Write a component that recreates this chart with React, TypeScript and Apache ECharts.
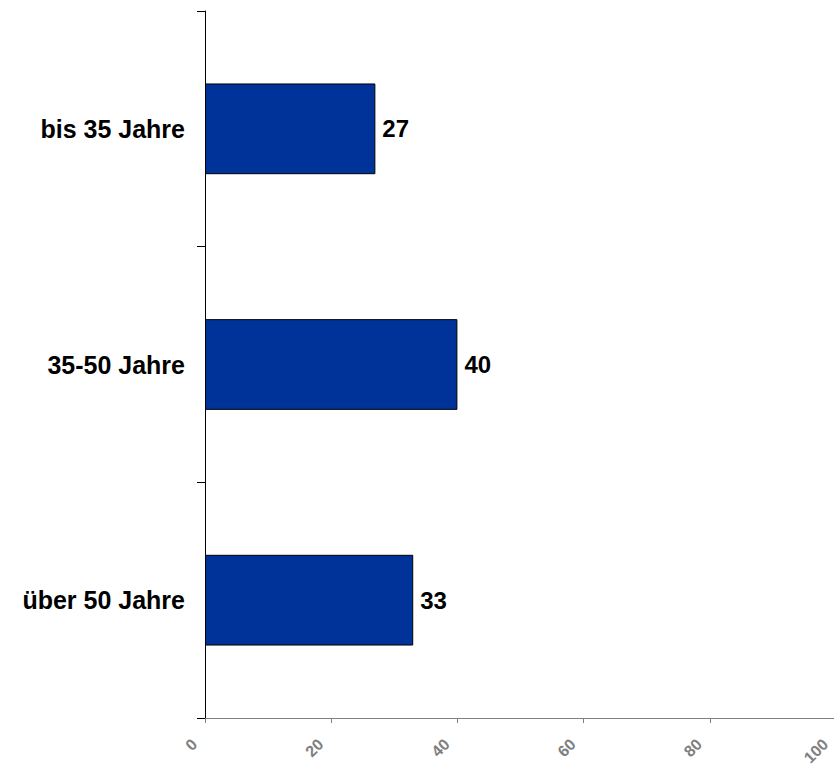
import React, { useEffect, useRef } from "react";
import * as echarts from "echarts";

const categories = ["bis 35 Jahre", "35-50 Jahre", "über 50 Jahre"];
const values = [27, 40, 33];
const xTicks = [0, 20, 40, 60, 80, 100];

export default function App() {
  const ref = useRef<HTMLDivElement>(null);
  useEffect(() => {
    if (!ref.current) return;
    const chart = echarts.init(ref.current, undefined, { renderer: "svg" });
    chart.setOption({
      animation: false,
      grid: { left: 205, top: 11, right: 14, bottom: 51, containLabel: false },
      xAxis: {
        type: "value",
        min: xTicks[0],
        max: xTicks[xTicks.length - 1],
        interval: 20,
        splitLine: { show: false },
        axisLine: { show: true, lineStyle: { color: "#808080", width: 1 } },
        axisTick: { show: true, length: 5, lineStyle: { color: "#808080" } },
        axisLabel: {
          rotate: 45,
          color: "#808080",
          fontFamily: "Liberation Sans, Arial, sans-serif",
          fontWeight: "bold",
          fontSize: 16,
          margin: 13,
          padding: [0, 15, 0, 0],
        },
      },
      yAxis: {
        type: "category",
        inverse: true,
        data: categories,
        axisLine: { show: true, lineStyle: { color: "#000", width: 1 } },
        axisTick: { show: true, length: 8, lineStyle: { color: "#000" } },
        axisLabel: {
          color: "#000",
          fontFamily: "Liberation Sans, Arial, sans-serif",
          fontWeight: "bold",
          fontSize: 25,
          margin: 20,
        },
      },
      series: [
        {
          type: "bar",
          data: values,
          barWidth: "38.5%",
          itemStyle: { color: "#003399", borderColor: "#000", borderWidth: 1 },
          label: {
            show: true,
            position: "right",
            distance: 7,
            color: "#000",
            fontFamily: "Liberation Sans, Arial, sans-serif",
            fontWeight: "bold",
            fontSize: 24,
          },
        },
      ],
    });
    return () => chart.dispose();
  }, []);
  return (
    <div style={{ position: "fixed", left: 0, top: 0, width: 834, height: 769, overflow: "hidden", background: "#fff" }}>
      <div ref={ref} style={{ width: 850, height: 769 }} />
    </div>
  );
}
